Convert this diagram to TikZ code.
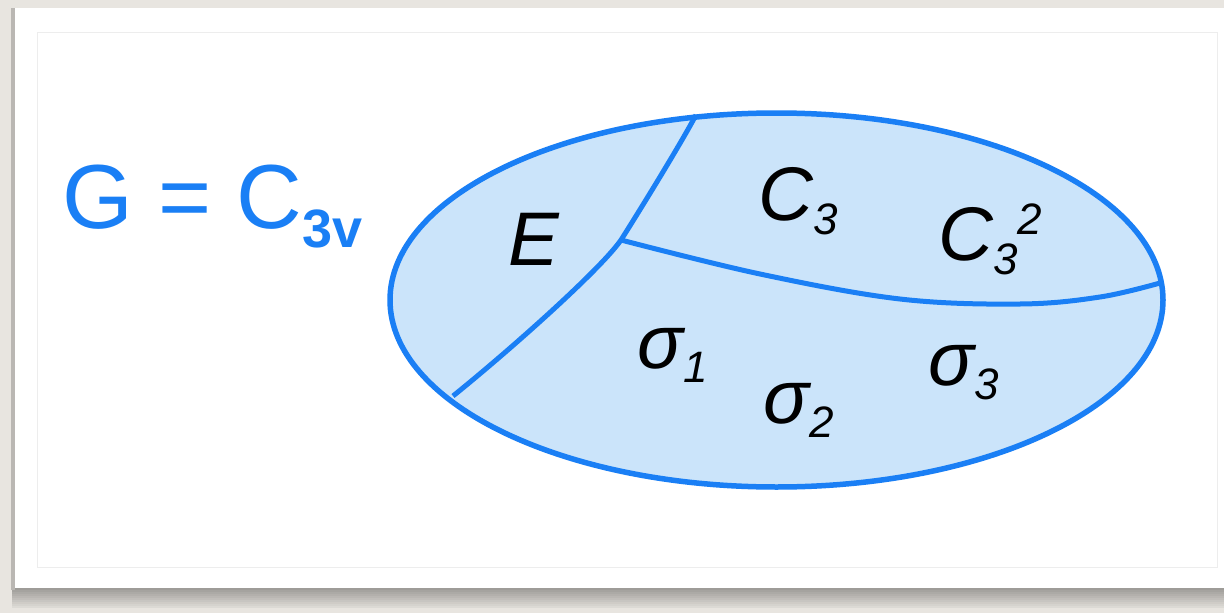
\documentclass[tikz,border=0pt]{standalone}
\usepackage{fontspec}
\setmainfont{Liberation Sans}
\usepackage{xcolor}
\definecolor{cBlue}{HTML}{1A7FF5}
\definecolor{cFill}{HTML}{CBE4FA}
\definecolor{cBack}{HTML}{E8E5E0}
\definecolor{cFrame}{HTML}{EDEDED}
\usepackage{tikz}
\usetikzlibrary{calc}
\tikzset{
  set-edge/.style={draw=cBlue,line width=5.5pt,fill=cFill},
  set-cut/.style={draw=cBlue,line width=5pt},
  elem-label/.style={anchor=base west,inner sep=0pt,
    font=\fontsize{76}{80}\selectfont\itshape},
  title-label/.style={anchor=base west,inner sep=0pt,text=cBlue,
    font=\fontsize{91}{96}\selectfont},
}
\newcommand{\elsub}[1]{\raisebox{-14pt}{\fontsize{44}{48}\selectfont #1}}
\newcommand{\elsup}[1]{\raisebox{26pt}{\fontsize{44}{48}\selectfont #1}}

\begin{document}
\begin{tikzpicture}[x=1pt,y=-1pt]
  \useasboundingbox (0,0) rectangle (1224,613);
  \fill[cBack] (0,0) rectangle (1224,613);
  % paper shadow
  \foreach \k in {0,...,9} {
    \pgfmathsetmacro\sh{32-3*\k}
    \fill[black!\sh!cBack] (12,588+2*\k) rectangle (1224,590+2*\k);
  }
  \fill[black!20!cBack] (11,8) rectangle (15,590);
  \fill[white] (15,8) rectangle (1224,588);
  \draw[cFrame,line width=1pt] (37,32) rectangle (1217,567);
  % the group as a set
  \coordinate (cen) at (776.5,300);
  \draw[set-edge] (cen) ellipse [x radius=386.5,y radius=187];
  \coordinate (top) at (696,115);
  \coordinate (jn)  at (621,240);
  \coordinate (bl)  at (453,396);
  \coordinate (re)  at (1160,283);
  \draw[set-cut] (top) .. controls (680,145) and (640,210) .. (jn)
    .. controls (600,270) and (510,350) .. (bl);
  \draw[set-cut] plot[smooth,tension=0.6] coordinates
    {(jn) (760,274) (900,299) (1020,304) (1100,297) (re)};
  % elements
  \node[elem-label] (e)    at (508,265) {E};
  \node[elem-label] (c3)   at (758,220) {C\elsub{3}};
  \node[elem-label] (c3sq) at (938,260) {C\elsub{3}\elsup{2}};
  \node[elem-label] (s1)   at (637,368) {σ\elsub{1}};
  \node[elem-label] (s2)   at (763,423) {σ\elsub{2}};
  \node[elem-label] (s3)   at (928,385) {σ\elsub{3}};
  \node[title-label] (grp) at (62,228)
    {G = C\raisebox{-19pt}{\fontsize{54}{58}\selectfont\bfseries 3v}};
\end{tikzpicture}
\end{document}
